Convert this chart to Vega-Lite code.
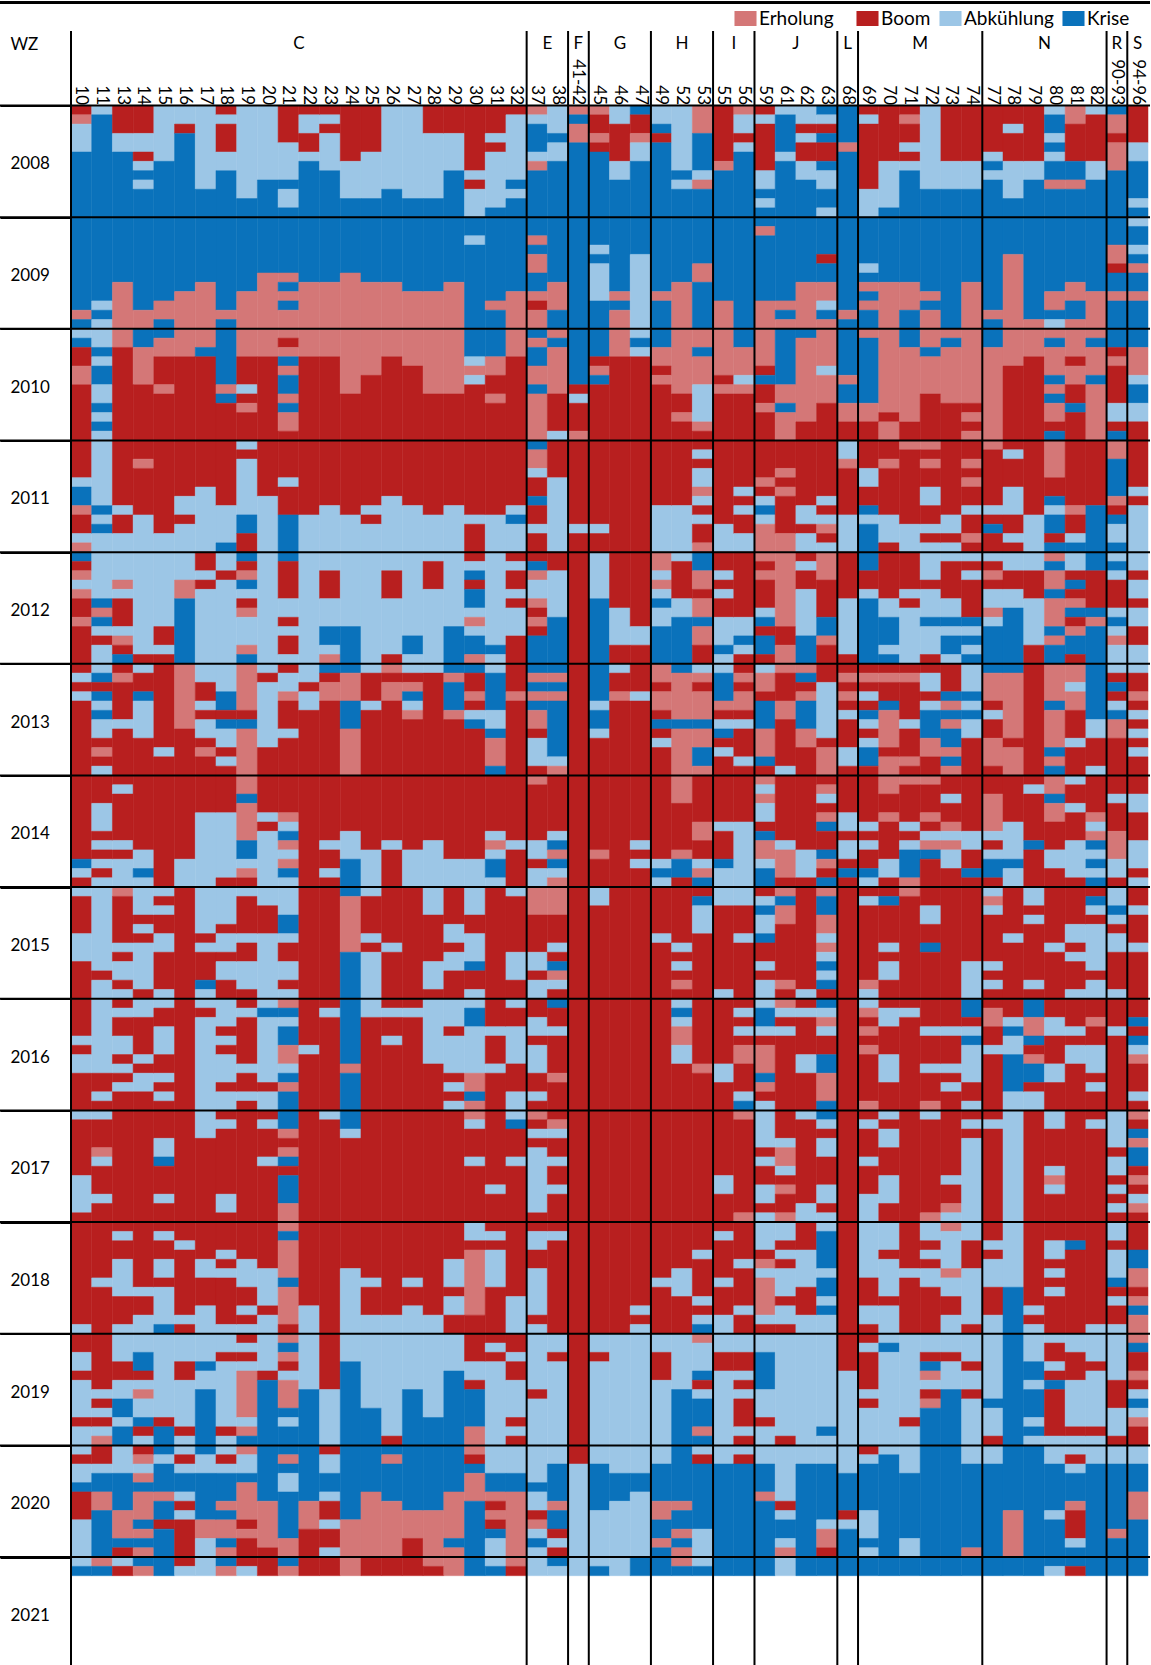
{"$schema":"https://vega.github.io/schema/vega-lite/v6.json","autosize":{"type":"none"},"width":1077,"height":1559.5,"padding":{"left":71,"top":105.5,"right":3,"bottom":0},"background":"white","config":{"view":{"stroke":null},"font":"Lato"},
"datasets":{"starts":[{"w":"10"},{"w":"37"},{"w":"41-42"},{"w":"45"},{"w":"49"},{"w":"55"},{"w":"59"},{"w":"68"},{"w":"69"},{"w":"77"},{"w":"90-93"},{"w":"94-96"}],"years":[{"m":0},{"m":12},{"m":24},{"m":36},{"m":48},{"m":60},{"m":72},{"m":84},{"m":96},{"m":108},{"m":120},{"m":132},{"m":144},{"m":156}],"oddGroups":[{"g":"F","w":"41-42"},{"g":"G","w":"46"},{"g":"H","w":"52"},{"g":"L","w":"68"},{"g":"R","w":"90-93"},{"g":"S","w":"94-96"}],"evenGroups":[{"g":"C","w":"21"},{"g":"E","w":"37"},{"g":"I","w":"55"},{"g":"J","w":"61"},{"g":"M","w":"71"},{"g":"N","w":"79"}]},
"layer":[
{"data":{"format":{"type":"csv","parse":{"w":"string","s":"number"}},"values":"w,s,p\n10,0,B\n10,1,E\n10,2,A\n10,5,K\n10,22,E\n10,23,K\n10,24,A\n10,25,K\n10,26,B\n10,28,E\n10,30,B\n10,40,A\n10,41,K\n10,43,E\n10,44,B\n10,46,A\n10,47,E\n10,48,K\n10,49,B\n10,50,E\n10,51,A\n10,52,E\n10,53,B\n10,55,E\n10,56,B\n10,61,A\n10,62,B\n10,63,A\n10,64,B\n10,81,K\n10,82,A\n10,83,B\n10,84,A\n10,85,B\n10,89,A\n10,92,B\n10,100,A\n10,101,B\n10,102,A\n10,104,B\n10,108,A\n10,109,B\n10,115,A\n10,119,B\n10,131,A\n10,132,B\n10,134,A\n10,136,B\n10,137,A\n10,141,B\n10,142,A\n10,145,B\n10,146,A\n10,148,K\n10,149,B\n10,152,A\n10,157,K\n10,158,K\n11,0,A\n11,1,K\n11,21,A\n11,22,K\n11,23,A\n11,26,K\n11,27,A\n11,28,K\n11,30,A\n11,32,K\n11,33,A\n11,34,K\n11,35,A\n11,43,K\n11,44,A\n11,45,K\n11,46,A\n11,53,K\n11,54,E\n11,55,K\n11,56,A\n11,57,B\n11,58,A\n11,61,K\n11,62,B\n11,63,K\n11,64,A\n11,65,K\n11,66,A\n11,68,B\n11,69,E\n11,70,B\n11,71,A\n11,72,B\n11,75,A\n11,78,B\n11,79,A\n11,80,B\n11,81,A\n11,82,B\n11,83,A\n11,93,B\n11,94,A\n11,104,B\n11,106,A\n11,107,B\n11,108,A\n11,109,B\n11,112,E\n11,113,A\n11,114,B\n11,117,A\n11,118,B\n11,126,A\n11,127,B\n11,138,A\n11,139,B\n11,140,A\n11,141,B\n11,142,A\n11,143,E\n11,144,B\n11,146,A\n11,147,K\n11,149,E\n11,151,K\n11,156,E\n11,157,K\n11,158,K\n13,0,B\n13,3,A\n13,5,K\n13,19,E\n13,26,B\n13,43,A\n13,44,B\n13,46,A\n13,51,E\n13,52,A\n13,53,B\n13,56,A\n13,57,E\n13,58,B\n13,59,K\n13,60,B\n13,61,E\n13,62,B\n13,66,A\n13,67,B\n13,73,A\n13,74,B\n13,79,A\n13,80,B\n13,81,A\n13,84,E\n13,85,B\n13,90,A\n13,91,B\n13,92,A\n13,94,B\n13,95,A\n13,96,B\n13,97,A\n13,98,B\n13,100,A\n13,102,B\n13,103,A\n13,104,B\n13,105,A\n13,106,B\n13,121,A\n13,122,B\n13,124,A\n13,128,B\n13,131,A\n13,135,B\n13,137,A\n13,139,K\n13,141,A\n13,142,K\n13,144,A\n13,147,K\n13,151,E\n13,154,K\n13,155,B\n13,156,A\n13,157,B\n13,158,B\n14,0,B\n14,3,A\n14,5,B\n14,6,A\n14,7,K\n14,8,A\n14,9,K\n14,22,E\n14,24,K\n14,26,E\n14,30,B\n14,38,E\n14,39,B\n14,44,A\n14,59,B\n14,60,A\n14,61,B\n14,63,K\n14,64,A\n14,68,B\n14,80,A\n14,82,K\n14,83,A\n14,87,B\n14,88,A\n14,89,B\n14,90,A\n14,95,B\n14,96,A\n14,98,B\n14,102,A\n14,103,B\n14,104,A\n14,106,B\n14,127,A\n14,128,B\n14,130,A\n14,134,K\n14,136,B\n14,137,A\n14,138,E\n14,139,A\n14,141,K\n14,142,B\n14,143,A\n14,144,B\n14,145,E\n14,146,A\n14,147,E\n14,148,K\n14,149,E\n14,152,K\n14,153,E\n14,154,K\n14,155,E\n14,156,K\n14,157,E\n14,158,E\n15,0,A\n15,6,K\n15,21,E\n15,23,K\n15,25,E\n15,27,B\n15,30,E\n15,31,B\n15,46,A\n15,56,B\n15,58,A\n15,59,B\n15,69,A\n15,70,B\n15,84,A\n15,85,B\n15,86,A\n15,87,B\n15,89,A\n15,91,B\n15,95,A\n15,97,B\n15,99,A\n15,102,B\n15,104,A\n15,105,B\n15,106,A\n15,107,B\n15,111,A\n15,113,K\n15,114,B\n15,117,A\n15,118,B\n15,121,A\n15,122,B\n15,124,A\n15,126,B\n15,127,A\n15,131,K\n15,132,A\n15,141,B\n15,142,K\n15,145,A\n15,146,K\n15,149,E\n15,150,K\n15,152,B\n15,153,K\n15,158,K\n16,0,A\n16,2,B\n16,3,K\n16,20,E\n16,27,B\n16,42,A\n16,44,B\n16,45,A\n16,51,E\n16,53,K\n16,60,E\n16,67,B\n16,81,A\n16,84,B\n16,122,A\n16,123,B\n16,130,A\n16,131,B\n16,132,A\n16,135,B\n16,137,A\n16,142,B\n16,143,A\n16,145,B\n16,146,A\n16,147,K\n16,149,A\n16,150,B\n16,151,A\n16,152,B\n16,157,A\n16,158,A\n17,0,A\n17,9,K\n17,19,E\n17,26,K\n17,27,B\n17,41,A\n17,48,B\n17,50,A\n17,51,B\n17,52,A\n17,62,B\n17,64,A\n17,65,B\n17,66,A\n17,68,B\n17,69,E\n17,70,B\n17,76,A\n17,89,B\n17,90,A\n17,91,B\n17,94,K\n17,95,A\n17,97,B\n17,98,A\n17,111,B\n17,124,A\n17,126,B\n17,129,A\n17,135,K\n17,136,A\n17,138,K\n17,145,A\n17,147,K\n17,152,E\n17,154,A\n17,158,A\n18,0,B\n18,1,A\n18,2,B\n18,5,A\n18,7,K\n18,22,E\n18,23,K\n18,30,E\n18,31,K\n18,32,B\n18,43,A\n18,47,K\n18,48,A\n18,50,B\n18,51,A\n18,63,K\n18,65,B\n18,66,K\n18,67,A\n18,69,B\n18,70,A\n18,71,B\n18,76,A\n18,83,B\n18,84,A\n18,88,B\n18,89,A\n18,91,B\n18,92,A\n18,94,B\n18,96,A\n18,99,B\n18,100,A\n18,101,B\n18,102,A\n18,105,B\n18,106,A\n18,108,B\n18,109,A\n18,110,B\n18,117,A\n18,119,B\n18,123,A\n18,124,B\n18,125,A\n18,126,B\n18,131,A\n18,134,B\n18,135,A\n18,142,B\n18,143,A\n18,145,B\n18,146,A\n18,147,K\n18,150,E\n18,151,K\n18,152,E\n18,154,K\n18,155,E\n18,156,K\n18,157,E\n18,158,E\n19,0,A\n19,10,K\n19,20,E\n19,27,B\n19,30,A\n19,31,B\n19,32,E\n19,33,B\n19,36,A\n19,37,B\n19,38,A\n19,44,K\n19,46,B\n19,48,K\n19,49,B\n19,50,E\n19,51,K\n19,52,A\n19,53,B\n19,54,E\n19,55,A\n19,58,E\n19,59,K\n19,60,E\n19,65,B\n19,66,K\n19,67,E\n19,74,K\n19,75,E\n19,79,K\n19,81,A\n19,82,E\n19,83,B\n19,84,A\n19,85,B\n19,89,A\n19,90,B\n19,92,A\n19,95,B\n19,97,A\n19,98,B\n19,103,A\n19,104,B\n19,106,A\n19,107,B\n19,124,A\n19,127,B\n19,129,A\n19,130,B\n19,131,A\n19,132,B\n19,133,A\n19,134,B\n19,135,A\n19,136,E\n19,141,A\n19,142,E\n19,143,K\n19,144,E\n19,145,A\n19,147,K\n19,148,E\n19,152,B\n19,153,E\n19,154,B\n19,157,A\n19,158,A\n20,0,A\n20,8,K\n20,18,E\n20,27,B\n20,42,A\n20,61,B\n20,62,A\n20,69,B\n20,76,A\n20,77,B\n20,78,A\n20,86,B\n20,89,A\n20,97,K\n20,98,A\n20,105,B\n20,106,A\n20,108,B\n20,109,A\n20,110,B\n20,113,A\n20,114,B\n20,125,A\n20,129,B\n20,130,A\n20,136,B\n20,137,K\n20,150,E\n20,155,B\n20,158,B\n21,0,B\n21,4,A\n21,8,K\n21,9,A\n21,11,K\n21,18,E\n21,19,K\n21,20,E\n21,21,K\n21,22,E\n21,25,B\n21,26,E\n21,27,K\n21,28,E\n21,29,K\n21,31,E\n21,32,K\n21,33,E\n21,35,B\n21,40,A\n21,41,B\n21,44,K\n21,49,B\n21,53,A\n21,55,B\n21,56,A\n21,57,B\n21,59,A\n21,60,B\n21,61,A\n21,63,E\n21,64,B\n21,67,A\n21,68,B\n21,76,E\n21,77,A\n21,78,K\n21,79,E\n21,80,A\n21,81,E\n21,82,K\n21,83,A\n21,87,K\n21,89,A\n21,90,B\n21,92,A\n21,94,B\n21,95,A\n21,96,E\n21,97,K\n21,98,A\n21,99,K\n21,101,E\n21,103,A\n21,104,K\n21,105,E\n21,106,K\n21,110,E\n21,111,B\n21,112,E\n21,113,K\n21,114,B\n21,115,K\n21,118,E\n21,121,K\n21,122,E\n21,126,K\n21,127,E\n21,131,B\n21,132,E\n21,133,K\n21,134,E\n21,135,B\n21,136,A\n21,137,E\n21,140,K\n21,141,A\n21,142,K\n21,145,E\n21,146,K\n21,147,A\n21,149,K\n21,154,E\n21,156,K\n21,157,E\n21,158,E\n22,0,B\n22,1,A\n22,3,B\n22,5,A\n22,6,K\n22,19,E\n22,27,B\n22,44,A\n22,62,B\n22,63,A\n22,65,B\n22,101,A\n22,102,B\n22,129,A\n22,138,K\n22,150,E\n22,153,B\n22,158,B\n23,0,B\n23,1,A\n23,2,B\n23,3,A\n23,7,K\n23,19,E\n23,27,B\n23,43,A\n23,50,B\n23,53,A\n23,56,K\n23,58,A\n23,59,E\n23,60,K\n23,61,B\n23,62,E\n23,64,B\n23,79,A\n23,80,B\n23,82,A\n23,83,B\n23,97,A\n23,98,B\n23,108,A\n23,109,B\n23,138,A\n23,144,B\n23,145,A\n23,147,K\n23,149,A\n23,150,B\n23,152,A\n23,153,B\n23,155,A\n23,156,B\n23,158,B\n24,0,B\n24,6,A\n24,10,K\n24,18,E\n24,31,B\n24,44,A\n24,56,K\n24,61,E\n24,64,K\n24,67,E\n24,72,B\n24,78,A\n24,81,K\n24,85,E\n24,91,K\n24,103,E\n24,104,K\n24,110,A\n24,111,B\n24,125,A\n24,135,K\n24,152,E\n24,158,E\n25,0,B\n25,5,A\n25,10,K\n25,19,E\n25,29,B\n25,43,A\n25,44,B\n25,45,A\n25,61,B\n25,64,A\n25,65,B\n25,80,A\n25,85,B\n25,89,A\n25,90,B\n25,91,A\n25,98,B\n25,126,A\n25,127,B\n25,130,A\n25,140,K\n25,149,E\n25,156,B\n25,158,B\n26,0,A\n26,9,K\n26,19,E\n26,27,B\n26,42,A\n26,50,B\n26,53,A\n26,59,B\n26,60,E\n26,61,B\n26,62,E\n26,64,B\n26,79,A\n26,80,B\n26,90,A\n26,91,B\n26,97,A\n26,98,B\n26,100,A\n26,101,B\n26,130,A\n26,143,B\n26,144,K\n26,145,E\n26,146,K\n26,150,E\n26,156,B\n26,158,B\n27,0,A\n27,10,K\n27,20,E\n27,28,B\n27,43,A\n27,57,K\n27,59,A\n27,61,B\n27,62,E\n27,63,K\n27,64,A\n27,65,E\n27,66,B\n27,80,A\n27,84,B\n27,97,A\n27,98,B\n27,126,A\n27,127,B\n27,129,A\n27,138,K\n27,151,E\n27,154,B\n27,158,B\n28,0,B\n28,3,A\n28,10,K\n28,20,E\n28,31,B\n28,44,A\n28,49,B\n28,52,A\n28,61,B\n28,79,A\n28,87,B\n28,92,A\n28,95,B\n28,96,A\n28,103,B\n28,130,A\n28,141,K\n28,151,E\n28,157,B\n28,158,B\n29,0,B\n29,3,A\n29,7,K\n29,19,E\n29,31,B\n29,43,A\n29,56,K\n29,61,E\n29,62,K\n29,65,E\n29,66,B\n29,81,A\n29,84,B\n29,88,A\n29,90,B\n29,91,A\n29,93,B\n29,96,A\n29,99,B\n29,100,A\n29,104,B\n29,105,A\n29,106,B\n29,107,A\n29,108,B\n29,124,A\n29,127,B\n29,128,A\n29,130,B\n29,132,A\n29,136,K\n29,149,E\n29,154,K\n29,155,E\n29,158,E\n30,0,B\n30,7,A\n30,8,B\n30,9,A\n30,12,K\n30,14,A\n30,15,K\n30,27,A\n30,28,E\n30,29,A\n30,30,B\n30,44,A\n30,45,B\n30,49,A\n30,50,K\n30,51,B\n30,52,K\n30,54,A\n30,55,E\n30,56,A\n30,57,K\n30,59,E\n30,60,K\n30,61,B\n30,63,E\n30,64,B\n30,65,A\n30,66,K\n30,67,B\n30,81,A\n30,87,B\n30,89,A\n30,92,K\n30,93,B\n30,95,A\n30,97,K\n30,99,A\n30,104,E\n30,106,K\n30,107,E\n30,109,A\n30,110,B\n30,113,A\n30,114,B\n30,120,A\n30,122,B\n30,123,E\n30,130,B\n30,135,A\n30,137,B\n30,138,K\n30,142,E\n30,145,B\n30,146,K\n30,147,E\n30,150,K\n30,158,K\n31,0,B\n31,3,A\n31,4,B\n31,5,A\n31,11,K\n31,21,E\n31,22,K\n31,27,E\n31,29,B\n31,31,E\n31,32,B\n31,44,A\n31,58,K\n31,59,A\n31,61,K\n31,65,A\n31,67,K\n31,68,E\n31,71,K\n31,72,B\n31,78,A\n31,79,E\n31,80,A\n31,81,K\n31,83,A\n31,84,B\n31,99,A\n31,100,B\n31,103,A\n31,104,B\n31,116,A\n31,117,B\n31,121,A\n31,122,B\n31,123,A\n31,127,B\n31,133,A\n31,134,B\n31,135,A\n31,147,K\n31,149,E\n31,150,B\n31,151,E\n31,152,B\n31,153,K\n31,154,A\n31,157,K\n31,158,K\n32,0,B\n32,1,A\n32,8,K\n32,9,A\n32,10,K\n32,20,E\n32,27,B\n32,43,A\n32,44,K\n32,45,A\n32,48,B\n32,49,A\n32,50,B\n32,52,A\n32,53,B\n32,54,A\n32,57,B\n32,63,E\n32,64,B\n32,79,A\n32,80,B\n32,84,A\n32,85,B\n32,91,A\n32,94,B\n32,96,A\n32,97,B\n32,99,A\n32,103,B\n32,106,A\n32,109,K\n32,110,B\n32,113,A\n32,114,B\n32,128,A\n32,132,B\n32,134,A\n32,135,B\n32,137,A\n32,141,B\n32,142,A\n32,143,B\n32,144,A\n32,147,K\n32,149,E\n32,157,B\n32,158,B\n37,0,E\n37,1,A\n37,2,K\n37,5,A\n37,6,E\n37,7,K\n37,14,E\n37,15,K\n37,16,E\n37,18,K\n37,20,E\n37,21,B\n37,22,E\n37,24,K\n37,25,E\n37,26,K\n37,28,E\n37,30,K\n37,31,E\n37,36,K\n37,37,E\n37,39,A\n37,40,B\n37,42,K\n37,43,B\n37,45,A\n37,46,B\n37,49,K\n37,50,E\n37,51,A\n37,53,E\n37,54,B\n37,55,E\n37,56,B\n37,57,K\n37,61,E\n37,62,K\n37,63,E\n37,64,K\n37,65,E\n37,67,B\n37,68,A\n37,71,B\n37,72,E\n37,73,B\n37,79,A\n37,81,B\n37,82,A\n37,84,E\n37,87,B\n37,91,A\n37,93,B\n37,94,A\n37,96,B\n37,98,A\n37,100,B\n37,101,A\n37,104,B\n37,106,A\n37,107,B\n37,108,E\n37,109,B\n37,110,A\n37,111,B\n37,112,A\n37,119,B\n37,121,A\n37,123,B\n37,125,A\n37,130,B\n37,131,A\n37,138,B\n37,139,A\n37,148,K\n37,149,A\n37,151,B\n37,152,E\n37,153,A\n37,154,K\n37,155,A\n37,158,A\n38,0,A\n38,3,K\n38,4,A\n38,6,K\n38,19,E\n38,22,K\n38,24,E\n38,25,K\n38,26,E\n38,31,B\n38,35,A\n38,36,B\n38,40,A\n38,48,B\n38,50,A\n38,55,K\n38,61,E\n38,62,K\n38,63,E\n38,64,K\n38,70,A\n38,71,E\n38,72,B\n38,78,A\n38,79,K\n38,80,E\n38,81,K\n38,82,A\n38,83,E\n38,87,B\n38,90,A\n38,91,B\n38,92,K\n38,93,E\n38,94,A\n38,95,B\n38,96,K\n38,97,B\n38,99,A\n38,100,B\n38,104,E\n38,105,B\n38,109,E\n38,110,A\n38,111,B\n38,113,A\n38,114,B\n38,116,A\n38,117,B\n38,121,A\n38,122,B\n38,132,A\n38,134,B\n38,135,A\n38,146,K\n38,150,E\n38,151,K\n38,153,B\n38,154,A\n38,155,B\n38,156,K\n38,157,A\n38,158,A\n41-42,0,E\n41-42,1,K\n41-42,2,E\n41-42,4,K\n41-42,30,B\n41-42,31,A\n41-42,32,B\n41-42,35,E\n41-42,36,B\n41-42,45,A\n41-42,46,B\n41-42,146,A\n41-42,158,A\n45,0,E\n45,1,B\n45,3,E\n45,4,B\n45,5,K\n45,15,A\n45,16,K\n45,17,A\n45,21,K\n45,27,B\n45,28,E\n45,29,K\n45,30,B\n45,45,A\n45,46,B\n45,48,A\n45,53,K\n45,64,A\n45,65,K\n45,67,A\n45,68,B\n45,80,E\n45,81,B\n45,84,A\n45,86,B\n45,132,A\n45,134,B\n45,135,A\n45,146,K\n45,151,A\n45,157,K\n45,158,K\n46,0,A\n46,2,B\n46,6,A\n46,8,K\n46,20,E\n46,21,K\n46,22,E\n46,27,B\n46,54,A\n46,58,B\n46,60,A\n46,61,B\n46,63,E\n46,64,B\n46,132,A\n46,147,K\n46,150,A\n46,158,A\n47,0,K\n47,1,B\n47,3,E\n47,4,A\n47,6,K\n47,16,A\n47,25,K\n47,26,A\n47,27,B\n47,56,A\n47,58,B\n47,63,A\n47,64,B\n47,79,A\n47,80,B\n47,81,A\n47,82,B\n47,129,A\n47,130,B\n47,131,A\n47,147,K\n47,149,A\n47,156,K\n47,158,K\n49,0,A\n49,2,K\n49,3,B\n49,4,K\n49,20,E\n49,21,K\n49,26,E\n49,28,B\n49,29,E\n49,30,B\n49,43,A\n49,48,E\n49,50,A\n49,51,E\n49,52,A\n49,53,K\n49,54,A\n49,56,K\n49,60,E\n49,62,B\n49,63,E\n49,65,B\n49,66,K\n49,67,B\n49,68,A\n49,69,B\n49,81,A\n49,82,K\n49,83,A\n49,84,B\n49,89,A\n49,90,B\n49,126,A\n49,127,B\n49,132,A\n49,134,B\n49,137,A\n49,146,K\n49,150,E\n49,152,K\n49,154,E\n49,155,K\n49,158,K\n52,0,A\n52,7,K\n52,8,A\n52,9,K\n52,19,E\n52,31,B\n52,33,E\n52,34,B\n52,43,A\n52,49,B\n52,53,A\n52,55,K\n52,61,E\n52,66,K\n52,67,E\n52,75,B\n52,80,E\n52,81,K\n52,83,B\n52,90,A\n52,91,B\n52,92,A\n52,93,B\n52,94,E\n52,95,B\n52,96,A\n52,97,K\n52,98,A\n52,99,E\n52,101,A\n52,103,B\n52,125,A\n52,128,B\n52,132,A\n52,138,K\n52,150,E\n52,151,K\n52,153,E\n52,154,K\n52,155,E\n52,157,K\n52,158,K\n53,0,E\n53,3,K\n53,7,A\n53,8,E\n53,9,K\n53,17,E\n53,19,K\n53,24,E\n53,26,K\n53,27,E\n53,30,A\n53,34,E\n53,35,B\n53,37,A\n53,38,B\n53,39,A\n53,41,E\n53,42,A\n53,43,B\n53,44,A\n53,45,B\n53,47,E\n53,48,K\n53,50,E\n53,52,B\n53,53,E\n53,55,K\n53,56,E\n53,58,B\n53,60,A\n53,61,E\n53,62,B\n53,63,E\n53,66,K\n53,67,E\n53,69,K\n53,71,E\n53,72,B\n53,77,E\n53,79,B\n53,81,A\n53,82,E\n53,83,K\n53,84,B\n53,85,K\n53,86,A\n53,89,B\n53,103,E\n53,104,B\n53,123,A\n53,124,B\n53,128,A\n53,129,B\n53,130,A\n53,131,K\n53,132,E\n53,133,A\n53,136,K\n53,137,B\n53,138,A\n53,139,K\n53,142,E\n53,143,K\n53,144,A\n53,145,B\n53,146,K\n53,153,A\n53,157,K\n53,158,K\n55,0,B\n55,6,E\n55,7,K\n55,21,E\n55,29,B\n55,30,E\n55,31,B\n55,45,A\n55,48,B\n55,50,A\n55,51,B\n55,52,A\n55,53,B\n55,55,A\n55,58,K\n55,59,A\n55,61,K\n55,64,E\n55,65,B\n55,66,A\n55,67,K\n55,68,B\n55,69,A\n55,70,B\n55,77,A\n55,78,B\n55,81,K\n55,82,A\n55,86,B\n55,95,A\n55,96,B\n55,103,A\n55,105,B\n55,115,A\n55,117,B\n55,121,A\n55,122,B\n55,126,A\n55,127,B\n55,130,A\n55,134,B\n55,136,A\n55,146,K\n55,158,K\n56,0,E\n56,1,A\n56,3,B\n56,4,A\n56,5,K\n56,26,E\n56,29,A\n56,30,E\n56,31,B\n56,41,A\n56,42,B\n56,43,A\n56,44,B\n56,46,A\n56,48,B\n56,55,A\n56,57,K\n56,58,A\n56,59,B\n56,61,E\n56,62,B\n56,63,E\n56,65,B\n56,66,A\n56,67,B\n56,70,A\n56,71,B\n56,77,A\n56,86,B\n56,89,A\n56,90,B\n56,97,A\n56,98,B\n56,99,A\n56,100,B\n56,101,E\n56,103,B\n56,106,A\n56,107,K\n56,108,E\n56,109,B\n56,119,E\n56,120,B\n56,124,A\n56,125,B\n56,129,A\n56,130,B\n56,132,A\n56,134,B\n56,136,A\n56,137,B\n56,138,A\n56,139,B\n56,142,A\n56,143,B\n56,144,A\n56,145,B\n56,146,K\n56,158,K\n59,0,B\n59,1,A\n59,2,B\n59,7,A\n59,9,K\n59,10,A\n59,11,K\n59,13,E\n59,14,K\n59,21,E\n59,28,B\n59,29,K\n59,30,B\n59,32,E\n59,33,B\n59,40,E\n59,41,B\n59,42,A\n59,43,K\n59,44,A\n59,45,E\n59,49,B\n59,50,E\n59,51,B\n59,54,A\n59,55,K\n59,56,B\n59,57,K\n59,59,B\n59,60,A\n59,61,E\n59,63,B\n59,64,K\n59,67,E\n59,70,K\n59,71,B\n59,72,E\n59,73,A\n59,74,E\n59,75,A\n59,77,B\n59,78,K\n59,79,E\n59,81,A\n59,82,K\n59,84,B\n59,85,A\n59,86,K\n59,87,A\n59,89,K\n59,90,B\n59,92,A\n59,93,B\n59,94,A\n59,97,K\n59,99,A\n59,100,B\n59,101,E\n59,104,K\n59,105,E\n59,106,B\n59,107,A\n59,112,B\n59,113,A\n59,114,B\n59,116,A\n59,118,B\n59,119,A\n59,123,B\n59,124,E\n59,125,A\n59,126,E\n59,130,A\n59,131,B\n59,132,A\n59,134,K\n59,138,A\n59,141,B\n59,142,A\n59,146,K\n59,149,E\n59,150,K\n59,158,K\n61,0,A\n61,1,K\n61,5,A\n61,6,K\n61,21,E\n61,22,K\n61,23,E\n61,24,K\n61,30,E\n61,32,K\n61,33,E\n61,36,B\n61,39,E\n61,40,B\n61,41,E\n61,42,B\n61,46,E\n61,56,B\n61,58,E\n61,61,B\n61,64,E\n61,66,B\n61,71,A\n61,72,B\n61,79,A\n61,80,E\n61,83,B\n61,84,E\n61,85,K\n61,86,E\n61,88,B\n61,94,E\n61,95,B\n61,96,E\n61,97,A\n61,98,B\n61,99,A\n61,100,B\n61,111,A\n61,112,E\n61,114,A\n61,115,B\n61,116,E\n61,117,B\n61,119,E\n61,120,A\n61,122,B\n61,123,A\n61,124,B\n61,125,A\n61,128,B\n61,129,A\n61,131,B\n61,132,A\n61,143,B\n61,144,A\n61,150,B\n61,151,A\n61,152,K\n61,154,A\n61,155,E\n61,156,A\n61,158,A\n62,0,A\n62,2,B\n62,3,A\n62,4,B\n62,6,A\n62,8,K\n62,19,E\n62,24,K\n62,25,E\n62,34,B\n62,43,A\n62,45,B\n62,46,A\n62,48,B\n62,49,A\n62,50,B\n62,52,A\n62,57,K\n62,60,E\n62,61,K\n62,62,B\n62,63,E\n62,64,K\n62,67,E\n62,69,B\n62,80,A\n62,83,B\n62,95,A\n62,96,B\n62,97,A\n62,98,B\n62,102,A\n62,104,B\n62,108,A\n62,109,B\n62,118,A\n62,120,B\n62,123,A\n62,127,B\n62,130,A\n62,146,K\n62,158,K\n63,0,K\n63,1,A\n63,2,B\n63,3,K\n63,4,B\n63,6,K\n63,7,A\n63,9,K\n63,11,A\n63,12,K\n63,16,B\n63,17,K\n63,19,E\n63,21,A\n63,22,K\n63,23,E\n63,28,A\n63,29,E\n63,32,B\n63,42,A\n63,43,B\n63,44,A\n63,45,E\n63,46,B\n63,47,A\n63,48,E\n63,51,B\n63,55,K\n63,57,E\n63,58,B\n63,62,A\n63,68,B\n63,69,E\n63,72,B\n63,73,E\n63,74,A\n63,75,B\n63,76,E\n63,77,K\n63,78,B\n63,80,K\n63,81,E\n63,82,B\n63,83,K\n63,84,E\n63,85,K\n63,87,E\n63,89,A\n63,90,E\n63,91,A\n63,92,K\n63,93,A\n63,94,K\n63,95,B\n63,96,K\n63,97,A\n63,98,E\n63,99,A\n63,100,B\n63,102,K\n63,104,E\n63,107,K\n63,109,A\n63,110,B\n63,111,A\n63,113,B\n63,116,A\n63,118,B\n63,119,A\n63,121,K\n63,125,A\n63,126,K\n63,128,A\n63,129,K\n63,130,A\n63,142,K\n63,143,A\n63,146,K\n63,152,A\n63,153,E\n63,155,B\n63,156,K\n63,158,K\n68,0,K\n68,4,E\n68,5,K\n68,22,E\n68,23,K\n68,29,E\n68,30,K\n68,32,E\n68,34,B\n68,36,A\n68,38,E\n68,39,B\n68,44,A\n68,48,B\n68,53,A\n68,59,B\n68,61,E\n68,62,B\n68,63,E\n68,64,B\n68,65,A\n68,66,B\n68,69,A\n68,71,B\n68,76,A\n68,78,B\n68,79,A\n68,81,B\n68,82,K\n68,83,B\n68,136,A\n68,147,K\n68,151,B\n68,152,A\n68,153,K\n68,158,K\n69,0,B\n69,1,A\n69,2,B\n69,9,A\n69,12,K\n69,17,A\n69,18,K\n69,19,E\n69,20,K\n69,21,E\n69,22,K\n69,24,E\n69,25,K\n69,32,E\n69,34,B\n69,39,A\n69,41,B\n69,43,K\n69,44,A\n69,45,K\n69,50,B\n69,52,A\n69,53,K\n69,60,B\n69,61,E\n69,62,B\n69,63,A\n69,64,B\n69,65,K\n69,66,A\n69,67,B\n69,68,A\n69,69,K\n69,71,B\n69,77,A\n69,78,B\n69,79,A\n69,80,B\n69,82,K\n69,83,A\n69,84,B\n69,85,A\n69,86,B\n69,94,E\n69,95,A\n69,97,E\n69,98,B\n69,99,E\n69,100,B\n69,101,E\n69,102,B\n69,107,E\n69,108,B\n69,109,A\n69,110,B\n69,113,A\n69,114,B\n69,117,A\n69,126,B\n69,129,A\n69,131,B\n69,133,A\n69,134,B\n69,138,A\n69,139,B\n69,140,A\n69,144,B\n69,145,A\n69,146,K\n69,151,A\n69,154,K\n69,155,A\n69,156,K\n69,158,K\n70,0,B\n70,6,A\n70,11,K\n70,19,E\n70,33,B\n70,34,E\n70,36,B\n70,38,E\n70,39,B\n70,44,A\n70,47,B\n70,53,A\n70,55,K\n70,58,A\n70,59,K\n70,60,B\n70,61,E\n70,62,B\n70,64,K\n70,65,E\n70,69,B\n70,70,E\n70,74,B\n70,76,E\n70,77,B\n70,81,A\n70,83,B\n70,85,K\n70,86,B\n70,90,A\n70,91,B\n70,92,A\n70,94,B\n70,97,A\n70,99,B\n70,102,A\n70,105,B\n70,108,A\n70,109,B\n70,110,A\n70,112,B\n70,115,A\n70,118,B\n70,120,A\n70,123,B\n70,124,A\n70,128,B\n70,129,A\n70,133,K\n70,134,A\n70,145,K\n70,158,K\n71,0,B\n71,1,E\n71,2,B\n71,4,A\n71,5,B\n71,6,A\n71,7,K\n71,19,E\n71,22,K\n71,26,E\n71,34,B\n71,36,E\n71,37,B\n71,45,A\n71,48,B\n71,52,A\n71,53,B\n71,54,A\n71,60,B\n71,61,E\n71,62,B\n71,66,A\n71,67,B\n71,70,E\n71,71,B\n71,72,E\n71,73,B\n71,77,A\n71,78,B\n71,79,A\n71,80,K\n71,83,E\n71,85,B\n71,97,A\n71,98,B\n71,125,A\n71,126,B\n71,132,A\n71,141,B\n71,142,A\n71,147,K\n71,154,A\n71,156,K\n71,158,K\n72,0,A\n72,9,K\n72,20,E\n72,21,K\n72,22,E\n72,26,K\n72,27,E\n72,31,B\n72,36,E\n72,37,B\n72,38,E\n72,39,B\n72,41,A\n72,43,B\n72,45,A\n72,46,B\n72,47,A\n72,51,B\n72,52,A\n72,55,K\n72,56,A\n72,59,B\n72,61,A\n72,63,B\n72,64,A\n72,65,K\n72,68,E\n72,70,B\n72,72,E\n72,73,B\n72,76,E\n72,77,B\n72,78,A\n72,79,E\n72,80,K\n72,81,B\n72,86,A\n72,88,B\n72,90,K\n72,91,B\n72,99,A\n72,100,B\n72,103,A\n72,104,B\n72,107,E\n72,108,A\n72,109,B\n72,119,E\n72,120,A\n72,122,B\n72,123,A\n72,124,B\n72,125,A\n72,127,B\n72,132,A\n72,134,B\n72,135,K\n72,136,E\n72,137,A\n72,138,B\n72,139,E\n72,140,K\n72,158,K\n73,0,B\n73,6,A\n73,9,K\n73,24,E\n73,25,K\n73,26,E\n73,32,B\n73,44,A\n73,46,B\n73,47,A\n73,49,B\n73,53,A\n73,55,K\n73,56,A\n73,57,K\n73,59,A\n73,60,B\n73,63,K\n73,64,E\n73,65,K\n73,66,E\n73,67,K\n73,69,E\n73,70,K\n73,71,E\n73,72,B\n73,74,A\n73,75,B\n73,77,E\n73,78,A\n73,79,E\n73,80,A\n73,82,B\n73,99,A\n73,100,B\n73,103,A\n73,104,B\n73,105,A\n73,106,B\n73,115,A\n73,116,B\n73,118,E\n73,119,A\n73,120,E\n73,121,A\n73,125,E\n73,126,A\n73,128,B\n73,130,A\n73,134,B\n73,135,A\n73,138,K\n73,158,K\n74,0,B\n74,6,A\n74,9,K\n74,19,E\n74,32,B\n74,33,E\n74,34,B\n74,35,E\n74,36,B\n74,38,E\n74,39,B\n74,40,E\n74,41,B\n74,43,A\n74,44,B\n74,46,E\n74,47,B\n74,48,A\n74,49,B\n74,50,A\n74,51,B\n74,55,K\n74,56,A\n74,57,K\n74,58,A\n74,59,K\n74,60,A\n74,63,K\n74,64,A\n74,65,K\n74,66,A\n74,68,B\n74,78,A\n74,80,B\n74,82,K\n74,83,B\n74,92,A\n74,96,K\n74,98,B\n74,99,A\n74,100,K\n74,101,A\n74,105,B\n74,107,A\n74,108,B\n74,109,A\n74,110,B\n74,111,A\n74,122,B\n74,125,A\n74,131,B\n74,132,A\n74,135,B\n74,136,A\n74,138,B\n74,139,A\n74,146,K\n74,155,E\n74,156,K\n74,158,K\n77,0,B\n77,5,A\n77,6,K\n77,7,A\n77,8,K\n77,22,E\n77,23,K\n77,26,E\n77,37,B\n77,43,A\n77,44,B\n77,45,K\n77,46,B\n77,48,A\n77,49,B\n77,50,E\n77,51,B\n77,52,A\n77,54,E\n77,55,A\n77,56,K\n77,61,E\n77,64,B\n77,65,A\n77,66,B\n77,68,E\n77,71,B\n77,74,E\n77,78,A\n77,79,B\n77,80,A\n77,81,K\n77,83,B\n77,84,A\n77,85,E\n77,86,A\n77,87,B\n77,92,A\n77,93,B\n77,94,A\n77,95,B\n77,97,E\n77,99,B\n77,101,A\n77,102,B\n77,109,A\n77,110,B\n77,122,A\n77,123,B\n77,124,A\n77,127,B\n77,130,A\n77,139,K\n77,140,A\n77,143,B\n77,144,A\n77,146,K\n77,158,K\n78,0,B\n78,2,A\n78,3,B\n78,6,A\n78,10,K\n78,16,E\n78,28,B\n78,37,A\n78,38,B\n78,41,A\n78,44,B\n78,46,A\n78,47,B\n78,48,A\n78,50,B\n78,52,A\n78,54,K\n78,61,E\n78,68,B\n78,69,E\n78,72,B\n78,77,A\n78,81,K\n78,82,A\n78,84,B\n78,89,A\n78,90,B\n78,98,A\n78,99,K\n78,100,A\n78,102,K\n78,106,A\n78,127,K\n78,151,E\n78,156,K\n78,158,K\n79,0,B\n79,6,A\n79,8,K\n79,23,E\n79,27,B\n79,44,A\n79,50,B\n79,53,A\n79,58,B\n79,73,A\n79,74,B\n79,79,K\n79,80,B\n79,84,A\n79,86,B\n79,87,A\n79,88,B\n79,94,A\n79,95,B\n79,96,K\n79,98,E\n79,100,K\n79,101,B\n79,102,E\n79,103,K\n79,105,B\n79,106,A\n79,108,B\n79,129,A\n79,130,B\n79,131,A\n79,135,K\n79,137,A\n79,138,K\n79,141,A\n79,142,K\n79,143,A\n79,144,K\n79,158,K\n80,0,A\n80,1,K\n80,3,A\n80,4,K\n80,5,A\n80,6,K\n80,8,E\n80,9,K\n80,20,E\n80,22,K\n80,23,A\n80,24,E\n80,25,K\n80,26,E\n80,29,K\n80,30,E\n80,31,K\n80,32,E\n80,34,B\n80,35,K\n80,36,E\n80,40,B\n80,42,K\n80,43,A\n80,44,K\n80,46,B\n80,47,K\n80,48,E\n80,49,K\n80,50,E\n80,52,K\n80,53,E\n80,56,K\n80,57,E\n80,58,K\n80,60,E\n80,64,K\n80,65,E\n80,69,K\n80,70,E\n80,71,K\n80,72,E\n80,74,K\n80,75,E\n80,77,B\n80,80,A\n80,82,B\n80,90,A\n80,91,B\n80,98,A\n80,100,B\n80,103,A\n80,105,B\n80,108,A\n80,110,B\n80,114,A\n80,115,E\n80,116,A\n80,117,B\n80,122,A\n80,124,B\n80,125,A\n80,126,B\n80,127,A\n80,128,B\n80,132,A\n80,133,B\n80,135,A\n80,136,B\n80,137,K\n80,138,B\n80,143,A\n80,146,K\n80,151,A\n80,152,K\n80,157,A\n80,158,A\n81,0,E\n81,2,B\n81,6,K\n81,8,E\n81,9,K\n81,19,E\n81,21,K\n81,23,E\n81,27,B\n81,28,E\n81,30,B\n81,32,K\n81,33,B\n81,43,E\n81,44,B\n81,46,A\n81,47,K\n81,48,A\n81,50,B\n81,51,K\n81,52,B\n81,53,E\n81,54,K\n81,55,B\n81,56,E\n81,57,K\n81,59,B\n81,60,E\n81,62,A\n81,63,E\n81,65,B\n81,68,A\n81,69,B\n81,72,A\n81,73,B\n81,75,A\n81,76,B\n81,79,A\n81,83,B\n81,88,A\n81,90,B\n81,91,A\n81,92,B\n81,95,A\n81,96,B\n81,99,A\n81,100,B\n81,101,A\n81,103,B\n81,122,K\n81,123,B\n81,132,A\n81,134,B\n81,137,A\n81,142,B\n81,143,A\n81,145,B\n81,146,A\n81,147,K\n81,150,E\n81,151,B\n81,154,A\n81,155,K\n81,157,B\n81,158,B\n82,0,A\n82,1,B\n82,6,A\n82,8,K\n82,20,E\n82,25,K\n82,26,E\n82,29,K\n82,30,E\n82,36,B\n82,43,K\n82,50,B\n82,54,K\n82,55,E\n82,56,K\n82,66,A\n82,68,B\n82,71,A\n82,72,B\n82,76,E\n82,77,A\n82,78,E\n82,79,K\n82,80,A\n82,81,K\n82,82,A\n82,83,K\n82,84,B\n82,85,K\n82,86,A\n82,87,B\n82,88,A\n82,93,B\n82,94,A\n82,96,B\n82,98,E\n82,99,B\n82,101,A\n82,104,B\n82,105,A\n82,106,B\n82,109,A\n82,110,B\n82,131,A\n82,135,B\n82,136,A\n82,142,B\n82,143,A\n82,146,K\n82,158,K\n90-93,0,K\n90-93,1,E\n90-93,3,B\n90-93,4,E\n90-93,7,K\n90-93,15,E\n90-93,17,B\n90-93,18,K\n90-93,20,E\n90-93,21,K\n90-93,26,B\n90-93,27,E\n90-93,28,B\n90-93,32,A\n90-93,34,B\n90-93,35,K\n90-93,36,E\n90-93,38,K\n90-93,42,E\n90-93,43,B\n90-93,44,K\n90-93,45,A\n90-93,47,K\n90-93,48,A\n90-93,49,K\n90-93,50,A\n90-93,51,B\n90-93,54,A\n90-93,55,K\n90-93,56,A\n90-93,57,E\n90-93,58,A\n90-93,61,B\n90-93,62,K\n90-93,63,B\n90-93,64,A\n90-93,65,K\n90-93,66,E\n90-93,68,B\n90-93,74,A\n90-93,75,B\n90-93,78,E\n90-93,81,A\n90-93,83,B\n90-93,84,A\n90-93,86,K\n90-93,87,A\n90-93,88,B\n90-93,89,A\n90-93,91,B\n90-93,95,A\n90-93,96,B\n90-93,99,A\n90-93,100,B\n90-93,108,A\n90-93,112,B\n90-93,113,A\n90-93,115,B\n90-93,116,A\n90-93,117,B\n90-93,118,A\n90-93,119,B\n90-93,120,A\n90-93,122,B\n90-93,123,A\n90-93,126,K\n90-93,127,B\n90-93,128,A\n90-93,129,B\n90-93,131,A\n90-93,137,B\n90-93,140,A\n90-93,143,B\n90-93,144,A\n90-93,146,K\n90-93,153,E\n90-93,154,K\n90-93,158,K\n94-96,0,B\n94-96,4,A\n94-96,6,K\n94-96,10,A\n94-96,11,K\n94-96,12,A\n94-96,13,K\n94-96,15,A\n94-96,16,K\n94-96,17,E\n94-96,18,K\n94-96,20,E\n94-96,21,K\n94-96,26,E\n94-96,29,A\n94-96,30,K\n94-96,32,A\n94-96,34,B\n94-96,41,A\n94-96,42,B\n94-96,43,A\n94-96,50,B\n94-96,51,A\n94-96,53,B\n94-96,54,A\n94-96,56,B\n94-96,58,A\n94-96,61,B\n94-96,63,E\n94-96,64,B\n94-96,65,A\n94-96,66,B\n94-96,67,A\n94-96,68,B\n94-96,69,A\n94-96,70,B\n94-96,74,A\n94-96,76,B\n94-96,79,A\n94-96,82,B\n94-96,83,A\n94-96,84,B\n94-96,86,A\n94-96,87,B\n94-96,90,A\n94-96,91,B\n94-96,98,K\n94-96,99,B\n94-96,100,K\n94-96,101,A\n94-96,102,E\n94-96,103,B\n94-96,106,A\n94-96,107,B\n94-96,108,E\n94-96,109,B\n94-96,110,K\n94-96,111,E\n94-96,112,K\n94-96,114,B\n94-96,115,E\n94-96,116,B\n94-96,117,A\n94-96,118,E\n94-96,119,B\n94-96,123,K\n94-96,125,E\n94-96,127,B\n94-96,128,E\n94-96,129,K\n94-96,130,E\n94-96,133,K\n94-96,134,B\n94-96,136,E\n94-96,137,B\n94-96,138,A\n94-96,139,K\n94-96,140,A\n94-96,141,E\n94-96,142,B\n94-96,144,A\n94-96,146,K\n94-96,149,E\n94-96,152,K\n94-96,158,K"},
"transform":[{"window":[{"op":"lead","field":"s","as":"e"}],"groupby":["w"],"sort":[{"field":"s","order":"ascending"}]},{"filter":"isValid(datum.e)"}],
"mark":{"type":"rect","strokeWidth":0.5},
"encoding":{
"x":{"field":"w","type":"ordinal","title":null,"scale":{"domain":["10","11","13","14","15","16","17","18","19","20","21","22","23","24","25","26","27","28","29","30","31","32","37","38","41-42","45","46","47","49","52","53","55","56","59","61","62","63","68","69","70","71","72","73","74","77","78","79","80","81","82","90-93","94-96"],"paddingInner":0,"paddingOuter":0},"axis":{"orient":"top","domain":false,"ticks":false,"labelAngle":90,"labelFontSize":17,"labelPadding":1,"labelColor":"black","labelFont":"Lato"}},
"y":{"field":"s","type":"quantitative","title":"WZ","scale":{"domain":[0,167.6],"reverse":true,"nice":false,"zero":false},"axis":{"values":[0,12,24,36,48,60,72,84,96,108,120,132,144,156],"grid":false,"domain":false,"ticks":true,"tickSize":71,"tickColor":"black","tickWidth":2,"labelOffset":58.3,"labelAlign":"left","labelPadding":-10,"labelColor":"black","labelFontSize":17,"labelBaseline":"middle","labelExpr":"''+(2008+datum.value/12)","titleAngle":0,"titleX":-61,"titleY":-61.5,"titleAlign":"left","titleBaseline":"middle","titleFontSize":17,"titleFontWeight":"normal","titleColor":"black"}},
"y2":{"field":"e"},
"stroke":{"field":"p","type":"nominal","scale":{"domain":["E","B","A","K"],"range":["#D47777","#B81F1F","#9CC6E6","#0A72BB"]},"legend":null},
"color":{"field":"p","type":"nominal","scale":{"domain":["E","B","A","K"],"range":["#D47777","#B81F1F","#9CC6E6","#0A72BB"]},"legend":{"title":null,"orient":"none","legendX":665,"legendY":-96.5,"direction":"horizontal","columns":4,"gridAlign":"none","columnPadding":8,"symbolType":"M-1.47,-1H1.47V1H-1.47Z","symbolSize":225,"symbolStrokeWidth":0,"labelFontSize":19,"labelColor":"black","labelOffset":4,"labelExpr":"{'E':'Erholung\u2003\u200b','B':'Boom','A':'Abkühlung','K':'Krise'}[datum.value]"}}}},
{"data":{"name":"years"},"mark":{"type":"rule","color":"black","strokeWidth":2},"encoding":{"y":{"field":"m","type":"quantitative","title":"WZ"},"x":{"value":-71},"x2":{"value":1079}}},
{"data":{"name":"years"},"mark":{"type":"rule","color":"black","strokeWidth":2},"encoding":{"y":{"datum":-11.05,"type":"quantitative","title":"WZ"},"x":{"value":-71},"x2":{"value":1079}}},
{"data":{"name":"starts"},"mark":{"type":"rule","color":"black","strokeWidth":2},"encoding":{"x":{"field":"w","type":"ordinal","bandPosition":0,"title":null},"y":{"datum":-8,"type":"quantitative","title":"WZ"},"y2":{"datum":167.6}}},
{"data":{"name":"oddGroups"},"mark":{"type":"text","fontSize":17,"baseline":"middle","color":"black"},"encoding":{"x":{"field":"w","type":"ordinal","bandPosition":0.5,"title":null},"y":{"datum":-6.6,"type":"quantitative","title":"WZ"},"text":{"field":"g"}}},
{"data":{"name":"evenGroups"},"mark":{"type":"text","fontSize":17,"baseline":"middle","color":"black"},"encoding":{"x":{"field":"w","type":"ordinal","bandPosition":1,"title":null},"y":{"datum":-6.6,"type":"quantitative","title":"WZ"},"text":{"field":"g"}}}
]}
